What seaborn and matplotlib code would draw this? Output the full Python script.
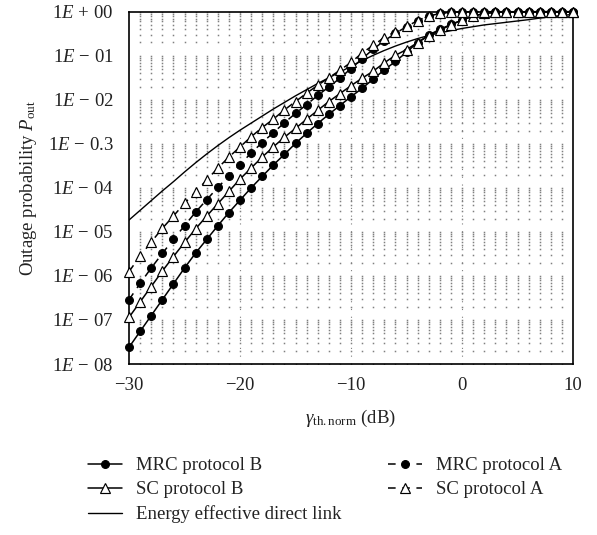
"""
Outage probability vs normalised threshold, MRC / SC for protocols A and B.
"""
import numpy as np
import matplotlib
matplotlib.use('Agg')
import matplotlib.pyplot as plt
import seaborn as sns
from matplotlib.lines import Line2D

# threshold in dB (one marker per dB)
gamma_db = np.arange(-30, 11)

# log10 of outage probability
mrc_b = [-7.62, -7.26, -6.90, -6.54, -6.18, -5.82, -5.48, -5.17, -4.86, -4.56,
         -4.28, -4.00, -3.74, -3.48, -3.24, -2.99, -2.76, -2.54, -2.33, -2.13,
         -1.93, -1.74, -1.53, -1.32, -1.13, -0.92, -0.70, -0.53, -0.40, -0.29,
         -0.19, -0.10, -0.04, -0.015, -0.005, -0.002, -0.001, 0.0, 0.0, 0.0, 0.0]
sc_b = [-6.94, -6.59, -6.24, -5.89, -5.56, -5.24, -4.93, -4.64, -4.36, -4.08,
        -3.80, -3.55, -3.30, -3.07, -2.85, -2.65, -2.44, -2.24, -2.04, -1.86,
        -1.68, -1.51, -1.35, -1.16, -0.99, -0.86, -0.70, -0.55, -0.42, -0.30,
        -0.19, -0.10, -0.04, -0.015, -0.005, -0.002, -0.001, 0.0, 0.0, 0.0, 0.0]
mrc_a = [-6.54, -6.17, -5.82, -5.49, -5.17, -4.86, -4.55, -4.27, -3.99, -3.73,
         -3.47, -3.21, -2.97, -2.75, -2.52, -2.31, -2.11, -1.90, -1.71, -1.51,
         -1.29, -1.07, -0.85, -0.66, -0.49, -0.34, -0.20, -0.10, -0.04, -0.01,
         -0.003, -0.001, 0.0, 0.0, 0.0, 0.0, 0.0, 0.0, 0.0, 0.0, 0.0]
sc_a = [-5.90, -5.55, -5.23, -4.92, -4.64, -4.35, -4.09, -3.82, -3.55, -3.30,
        -3.07, -2.84, -2.63, -2.44, -2.23, -2.04, -1.85, -1.67, -1.50, -1.33,
        -1.15, -0.94, -0.76, -0.59, -0.45, -0.32, -0.20, -0.10, -0.04, -0.01,
        -0.003, -0.001, 0.0, 0.0, 0.0, 0.0, 0.0, 0.0, 0.0, 0.0, 0.0]
direct = [-4.73, -4.51, -4.29, -4.07, -3.86, -3.64, -3.43, -3.23, -3.04, -2.86,
          -2.69, -2.53, -2.37, -2.21, -2.06, -1.91, -1.77, -1.63, -1.50, -1.37,
          -1.24, -1.11, -0.99, -0.88, -0.78, -0.69, -0.61, -0.54, -0.48, -0.43,
          -0.38, -0.34, -0.30, -0.27, -0.24, -0.21, -0.18, -0.145, -0.115, -0.085, -0.06]

ytick_vals = [1e0, 1e-1, 1e-2, 1e-3, 1e-4, 1e-5, 1e-6, 1e-7, 1e-8]
ytick_labels = [r"$1E\,+\,00$", r"$1E\,-\,01$", r"$1E\,-\,02$", r"$1E\,-\,0.3$",
                r"$1E\,-\,04$", r"$1E\,-\,05$", r"$1E\,-\,06$", r"$1E\,-\,07$",
                r"$1E\,-\,08$"]
xtick_vals = [-30, -20, -10, 0, 10]
xtick_labels = ["\u221230", "\u221220", "\u221210", "0", "10"]

sns.set_theme(style="white")
plt.rcParams['font.family'] = ['Liberation Serif', 'DejaVu Serif']
plt.rcParams['mathtext.fontset'] = 'custom'
plt.rcParams['mathtext.rm'] = 'Liberation Serif'
plt.rcParams['mathtext.it'] = 'Liberation Serif:italic'
plt.rcParams['mathtext.bf'] = 'Liberation Serif:bold'

FS = 13.5
TXT = '#222222'
fig = plt.figure(figsize=(5.97, 5.35), dpi=100)
ax = fig.add_axes([0.2161, 0.3196, 0.7437, 0.6585])
ax.set_yscale('log')
ax.set_xlim(-30, 10)
ax.set_ylim(1e-8, 1)

# dotted grid: dots where the 1 dB verticals meet the log minor horizontals
gx = np.arange(-29, 10)
gy = np.array([k * 10.0 ** n for n in range(-8, 0) for k in range(1, 10)] + [1.0])
GX, GY = np.meshgrid(gx, gy)
ax.plot(GX.ravel(), GY.ravel(), ls='none', marker='s', ms=1.1, mew=0,
        color='0.5', zorder=0.5)
for xv in [-20, -10, 0]:
    ax.axvline(xv, color='0.5', lw=0.8, ls=(0, (1, 6)), zorder=0.5)

dash = (0, (5, 4.3))
styles = [
    ("MRC protocol B", mrc_b, '-', 'o', 'black', 5.6),
    ("SC protocol B", sc_b, '-', '^', 'white', 6.6),
    ("MRC protocol A", mrc_a, dash, 'o', 'black', 5.6),
    ("SC protocol A", sc_a, dash, '^', 'white', 6.6),
]
handles = {}
for label, vals, ls, mk, mfc, ms in styles:
    sns.lineplot(x=gamma_db, y=np.power(10.0, vals), ax=ax, color='black',
                 lw=1.1, linestyle=ls, marker=mk, markersize=ms,
                 markerfacecolor=mfc, markeredgecolor='black', markeredgewidth=0.85,
                 clip_on=False, zorder=3)
    handles[label] = Line2D([], [], color='black', lw=1.1, linestyle=ls, marker=mk,
                            markersize=ms, markerfacecolor=mfc,
                            markeredgecolor='black', markeredgewidth=0.85)

sns.lineplot(x=gamma_db, y=np.power(10.0, direct), ax=ax, color='black', lw=1.0,
             zorder=2)
handles["Energy effective direct link"] = Line2D([], [], color='black', lw=1.0)

ax.set_xticks(xtick_vals)
ax.set_xticklabels(xtick_labels, fontsize=FS)
ax.set_yticks(ytick_vals)
ax.set_yticklabels(ytick_labels, fontsize=FS)
ax.yaxis.set_minor_locator(matplotlib.ticker.NullLocator())
ax.tick_params(axis='both', which='major', direction='out', length=4, width=1.1,
               color='black', labelcolor=TXT)
ax.tick_params(axis='y', pad=7)
ax.tick_params(axis='x', pad=5)
for sp in ax.spines.values():
    sp.set_color('black')
    sp.set_linewidth(1.2)

ax.set_xlabel(r"$\gamma_{\mathrm{th.norm}}$ (dB)", fontsize=FS, color=TXT, labelpad=10)
ax.set_ylabel(r"Outage probability $P_{\mathrm{out}}$", fontsize=FS, color=TXT,
              labelpad=6)

# legend below the axes, two columns placed separately
leg_kw = dict(frameon=False, fontsize=FS, handlelength=1.8, handletextpad=0.75,
              labelspacing=0.38, borderaxespad=0, borderpad=0, loc='upper left',
              labelcolor=TXT)
col1 = ["MRC protocol B", "SC protocol B", "Energy effective direct link"]
col2 = ["MRC protocol A", "SC protocol A"]
leg_top = 1 - 457 / 535
fig.legend([handles[k] for k in col1], col1, bbox_to_anchor=(0.147, leg_top), **leg_kw)
fig.legend([handles[k] for k in col2], col2, bbox_to_anchor=(0.650, leg_top), **leg_kw)

fig.savefig("out.png", dpi=100)
plt.close(fig)
